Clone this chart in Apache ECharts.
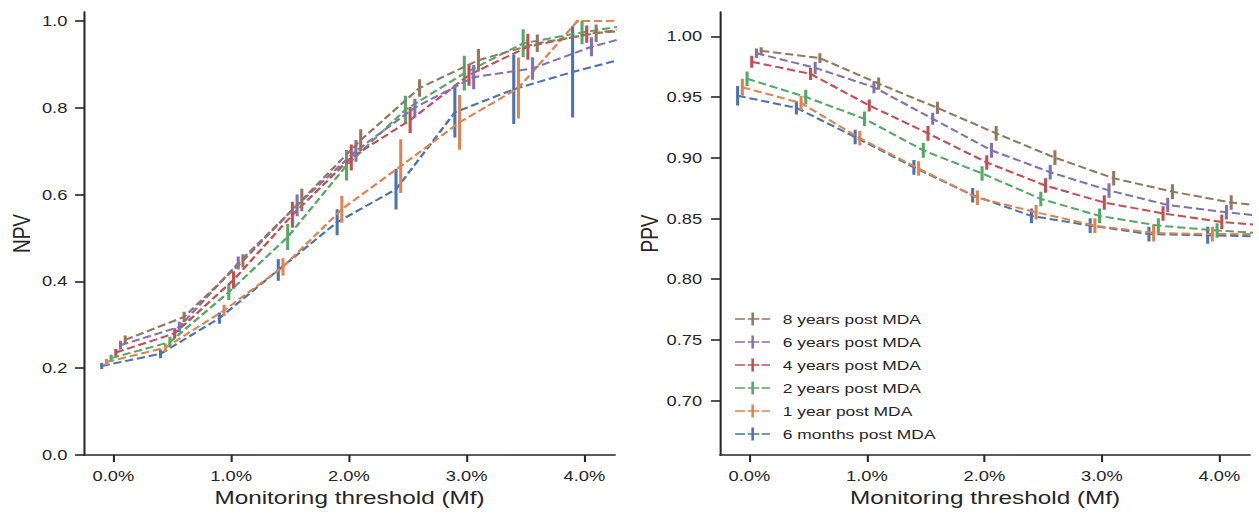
<!DOCTYPE html>
<html>
<head>
<meta charset="utf-8">
<script src="https://cdn.jsdelivr.net/npm/echarts@6/dist/echarts.min.js"></script>
<style>
  html, body { margin: 0; padding: 0; background: #fff; overflow: hidden; }
  /* the figure is drawn narrow and widened horizontally */
  #chart { width: 983.6px; height: 514px; transform: scaleX(1.28); transform-origin: 0 0; }
</style>
</head>
<body>
<div id="chart"></div>
<script>
// Monitoring threshold Mf (%), one point per threshold
const thresholds = [0, 0.5, 1, 1.5, 2, 2.5, 3, 3.5, 4, 4.5];
const groups = ['6 months post MDA', '1 year post MDA', '2 years post MDA',
                '4 years post MDA', '6 years post MDA', '8 years post MDA'];

// Negative predictive value (mean) and error-bar half widths
const npv6m = [0.205, 0.233, 0.315, 0.426, 0.536, 0.612, 0.789, 0.842, 0.882, 0.917];
const npv1y = [0.214, 0.247, 0.333, 0.433, 0.566, 0.665, 0.766, 0.845, 0.999, 1.000];
const npv2y = [0.223, 0.260, 0.375, 0.502, 0.667, 0.795, 0.879, 0.948, 0.973, 0.994];
const npv4y = [0.236, 0.280, 0.403, 0.553, 0.685, 0.771, 0.875, 0.940, 0.969, 0.987];
const npv6y = [0.253, 0.295, 0.442, 0.575, 0.700, 0.800, 0.870, 0.890, 0.940, 0.976];
const npv8y = [0.265, 0.318, 0.447, 0.587, 0.725, 0.845, 0.909, 0.948, 0.971, 0.984];
const npvErr6m = [0.007, 0.010, 0.013, 0.025, 0.030, 0.047, 0.058, 0.080, 0.105, 0.030];
const npvErr1y = [0.007, 0.010, 0.013, 0.020, 0.031, 0.062, 0.063, 0.070, 0.003, 0.000];
const npvErr2y = [0.008, 0.012, 0.018, 0.030, 0.035, 0.032, 0.040, 0.032, 0.027, 0.010];
const npvErr4y = [0.008, 0.012, 0.020, 0.030, 0.030, 0.030, 0.025, 0.030, 0.020, 0.010];
const npvErr6y = [0.010, 0.012, 0.015, 0.025, 0.025, 0.020, 0.028, 0.026, 0.022, 0.010];
const npvErr8y = [0.010, 0.012, 0.015, 0.026, 0.025, 0.020, 0.026, 0.020, 0.020, 0.010];

// Positive predictive value (mean) and error-bar half widths
const ppv6m = [0.951, 0.941, 0.917, 0.892, 0.869, 0.852, 0.844, 0.837, 0.836, 0.835];
const ppv1y = [0.958, 0.945, 0.916, 0.891, 0.867, 0.855, 0.844, 0.838, 0.837, 0.837];
const ppv2y = [0.965, 0.950, 0.932, 0.906, 0.887, 0.866, 0.852, 0.844, 0.840, 0.837];
const ppv4y = [0.979, 0.969, 0.943, 0.920, 0.896, 0.877, 0.863, 0.854, 0.847, 0.843];
const ppv6y = [0.986, 0.974, 0.958, 0.932, 0.906, 0.888, 0.873, 0.861, 0.855, 0.850];
const ppv8y = [0.988, 0.982, 0.961, 0.941, 0.920, 0.900, 0.883, 0.872, 0.863, 0.858];
const ppvErr6m = [0.008, 0.0055, 0.006, 0.006, 0.006, 0.006, 0.006, 0.006, 0.007, 0.006];
const ppvErr1y = [0.007, 0.006, 0.006, 0.006, 0.006, 0.006, 0.006, 0.007, 0.006, 0.006];
const ppvErr2y = [0.006, 0.006, 0.006, 0.006, 0.006, 0.006, 0.006, 0.006, 0.006, 0.006];
const ppvErr4y = [0.005, 0.005, 0.005, 0.006, 0.006, 0.006, 0.006, 0.006, 0.006, 0.006];
const ppvErr6y = [0.004, 0.005, 0.005, 0.005, 0.006, 0.006, 0.006, 0.006, 0.006, 0.006];
const ppvErr8y = [0.003, 0.004, 0.005, 0.005, 0.006, 0.006, 0.006, 0.006, 0.006, 0.006];

// Axis tick values
const xTicks = [0, 1, 2, 3, 4];
const npvTicks = [0, 0.2, 0.4, 0.6, 0.8, 1.0];
const ppvTicks = [0.70, 0.75, 0.80, 0.85, 0.90, 0.95, 1.00];

const npvMeans = [npv6m, npv1y, npv2y, npv4y, npv6y, npv8y];
const npvErrs = [npvErr6m, npvErr1y, npvErr2y, npvErr4y, npvErr6y, npvErr8y];
const ppvMeans = [ppv6m, ppv1y, ppv2y, ppv4y, ppv6y, ppv8y];
const ppvErrs = [ppvErr6m, ppvErr1y, ppvErr2y, ppvErr4y, ppvErr6y, ppvErr8y];

const colors = ['#4C72B0', '#DD8452', '#55A868', '#C44E52', '#8172B3', '#937860'];
const STRETCH = 1.28;
const px = v => v / STRETCH;          // page x -> drawing x
const FONT = "'Liberation Sans', Arial, sans-serif";
const INK = '#262626';
const dodge = i => -0.1 + 0.04 * i;   // side-by-side shift of each group

function xAxis(gridIndex) {
  return {
    type: 'value', gridIndex, min: -0.25, max: 4.26,
    splitLine: { show: false },
    axisLine: { onZero: false, lineStyle: { color: INK, width: 1.6 } },
    axisTick: { customValues: xTicks, length: 7, lineStyle: { color: INK, width: 1.6 } },
    axisLabel: { customValues: xTicks, formatter: v => v.toFixed(1) + '%', margin: 14,
                 fontSize: 14.3, color: INK, fontFamily: FONT },
    name: 'Monitoring threshold (Mf)', nameLocation: 'middle', nameGap: 31,
    nameTextStyle: { fontSize: 19, color: INK, fontFamily: FONT }
  };
}
function yAxis(gridIndex, name, min, max, ticks, digits, margin, gap) {
  return {
    type: 'value', gridIndex, min, max,
    splitLine: { show: false },
    axisLine: { show: true, onZero: false, lineStyle: { color: INK, width: 1.6 } },
    axisTick: { show: true, customValues: ticks, length: 7, lineStyle: { color: INK, width: 1.6 } },
    axisLabel: { customValues: ticks, formatter: v => v.toFixed(digits), margin,
                 fontSize: 14.3, color: INK, fontFamily: FONT },
    name, nameLocation: 'middle', nameGap: gap,
    nameTextStyle: { fontSize: 19, color: INK, fontFamily: FONT }
  };
}

const series = [];
function addPanel(axisIndex, means, errs) {
  groups.forEach((g, i) => {
    const off = dodge(i);
    series.push({
      type: 'line', name: g, xAxisIndex: axisIndex, yAxisIndex: axisIndex,
      data: thresholds.map((t, k) => [t + off, means[i][k]]),
      showSymbol: false, symbol: 'none', clip: true, z: 2 + i,
      itemStyle: { color: colors[i] },
      lineStyle: { color: colors[i], width: 2, type: [6.5, 3] }
    });
    series.push({
      type: 'custom', name: g, xAxisIndex: axisIndex, yAxisIndex: axisIndex,
      data: thresholds.map((t, k) => [t + off, means[i][k] - errs[i][k], means[i][k] + errs[i][k]]),
      clip: true, z: 2 + i,
      itemStyle: { color: colors[i] },
      renderItem: (params, api) => {
        const lo = api.coord([api.value(0), api.value(1)]);
        const hi = api.coord([api.value(0), api.value(2)]);
        return { type: 'line', shape: { x1: lo[0], y1: lo[1], x2: hi[0], y2: hi[1] },
                 style: { stroke: colors[i], lineWidth: 2.4 } };
      }
    });
  });
}
addPanel(0, npvMeans, npvErrs);
addPanel(1, ppvMeans, ppvErrs);

const chart = echarts.init(document.getElementById('chart'), null, { renderer: 'svg' });
chart.setOption({
  animation: false,
  backgroundColor: '#fff',
  grid: [
    { left: px(84), width: px(531), top: 12, bottom: 59 },
    { left: px(720), width: px(530), top: 12, bottom: 59 }
  ],
  xAxis: [xAxis(0), xAxis(1)],
  yAxis: [
    yAxis(0, 'NPV', 0, 1.02, npvTicks, 1, 13, 39),
    yAxis(1, 'PPV', 0.655, 1.02, ppvTicks, 2, 14, 38)
  ],
  legend: {
    data: groups.slice().reverse(),
    orient: 'vertical', left: px(735), top: 312, padding: 0,
    icon: 'path://M0,5.7h7.8v1.6h-7.8z M10,5.7h9v1.6h-9z M20.8,5.7h6.5v1.6h-6.5z M12.8,0h2v13h-2z',
    itemWidth: 27.3, itemHeight: 13, itemGap: 9,
    itemStyle: { borderWidth: 0 },
    textStyle: { fontSize: 13.6, color: INK, fontFamily: FONT, padding: [0, 0, 0, 5] }
  },
  series
});
</script>
</body>
</html>
